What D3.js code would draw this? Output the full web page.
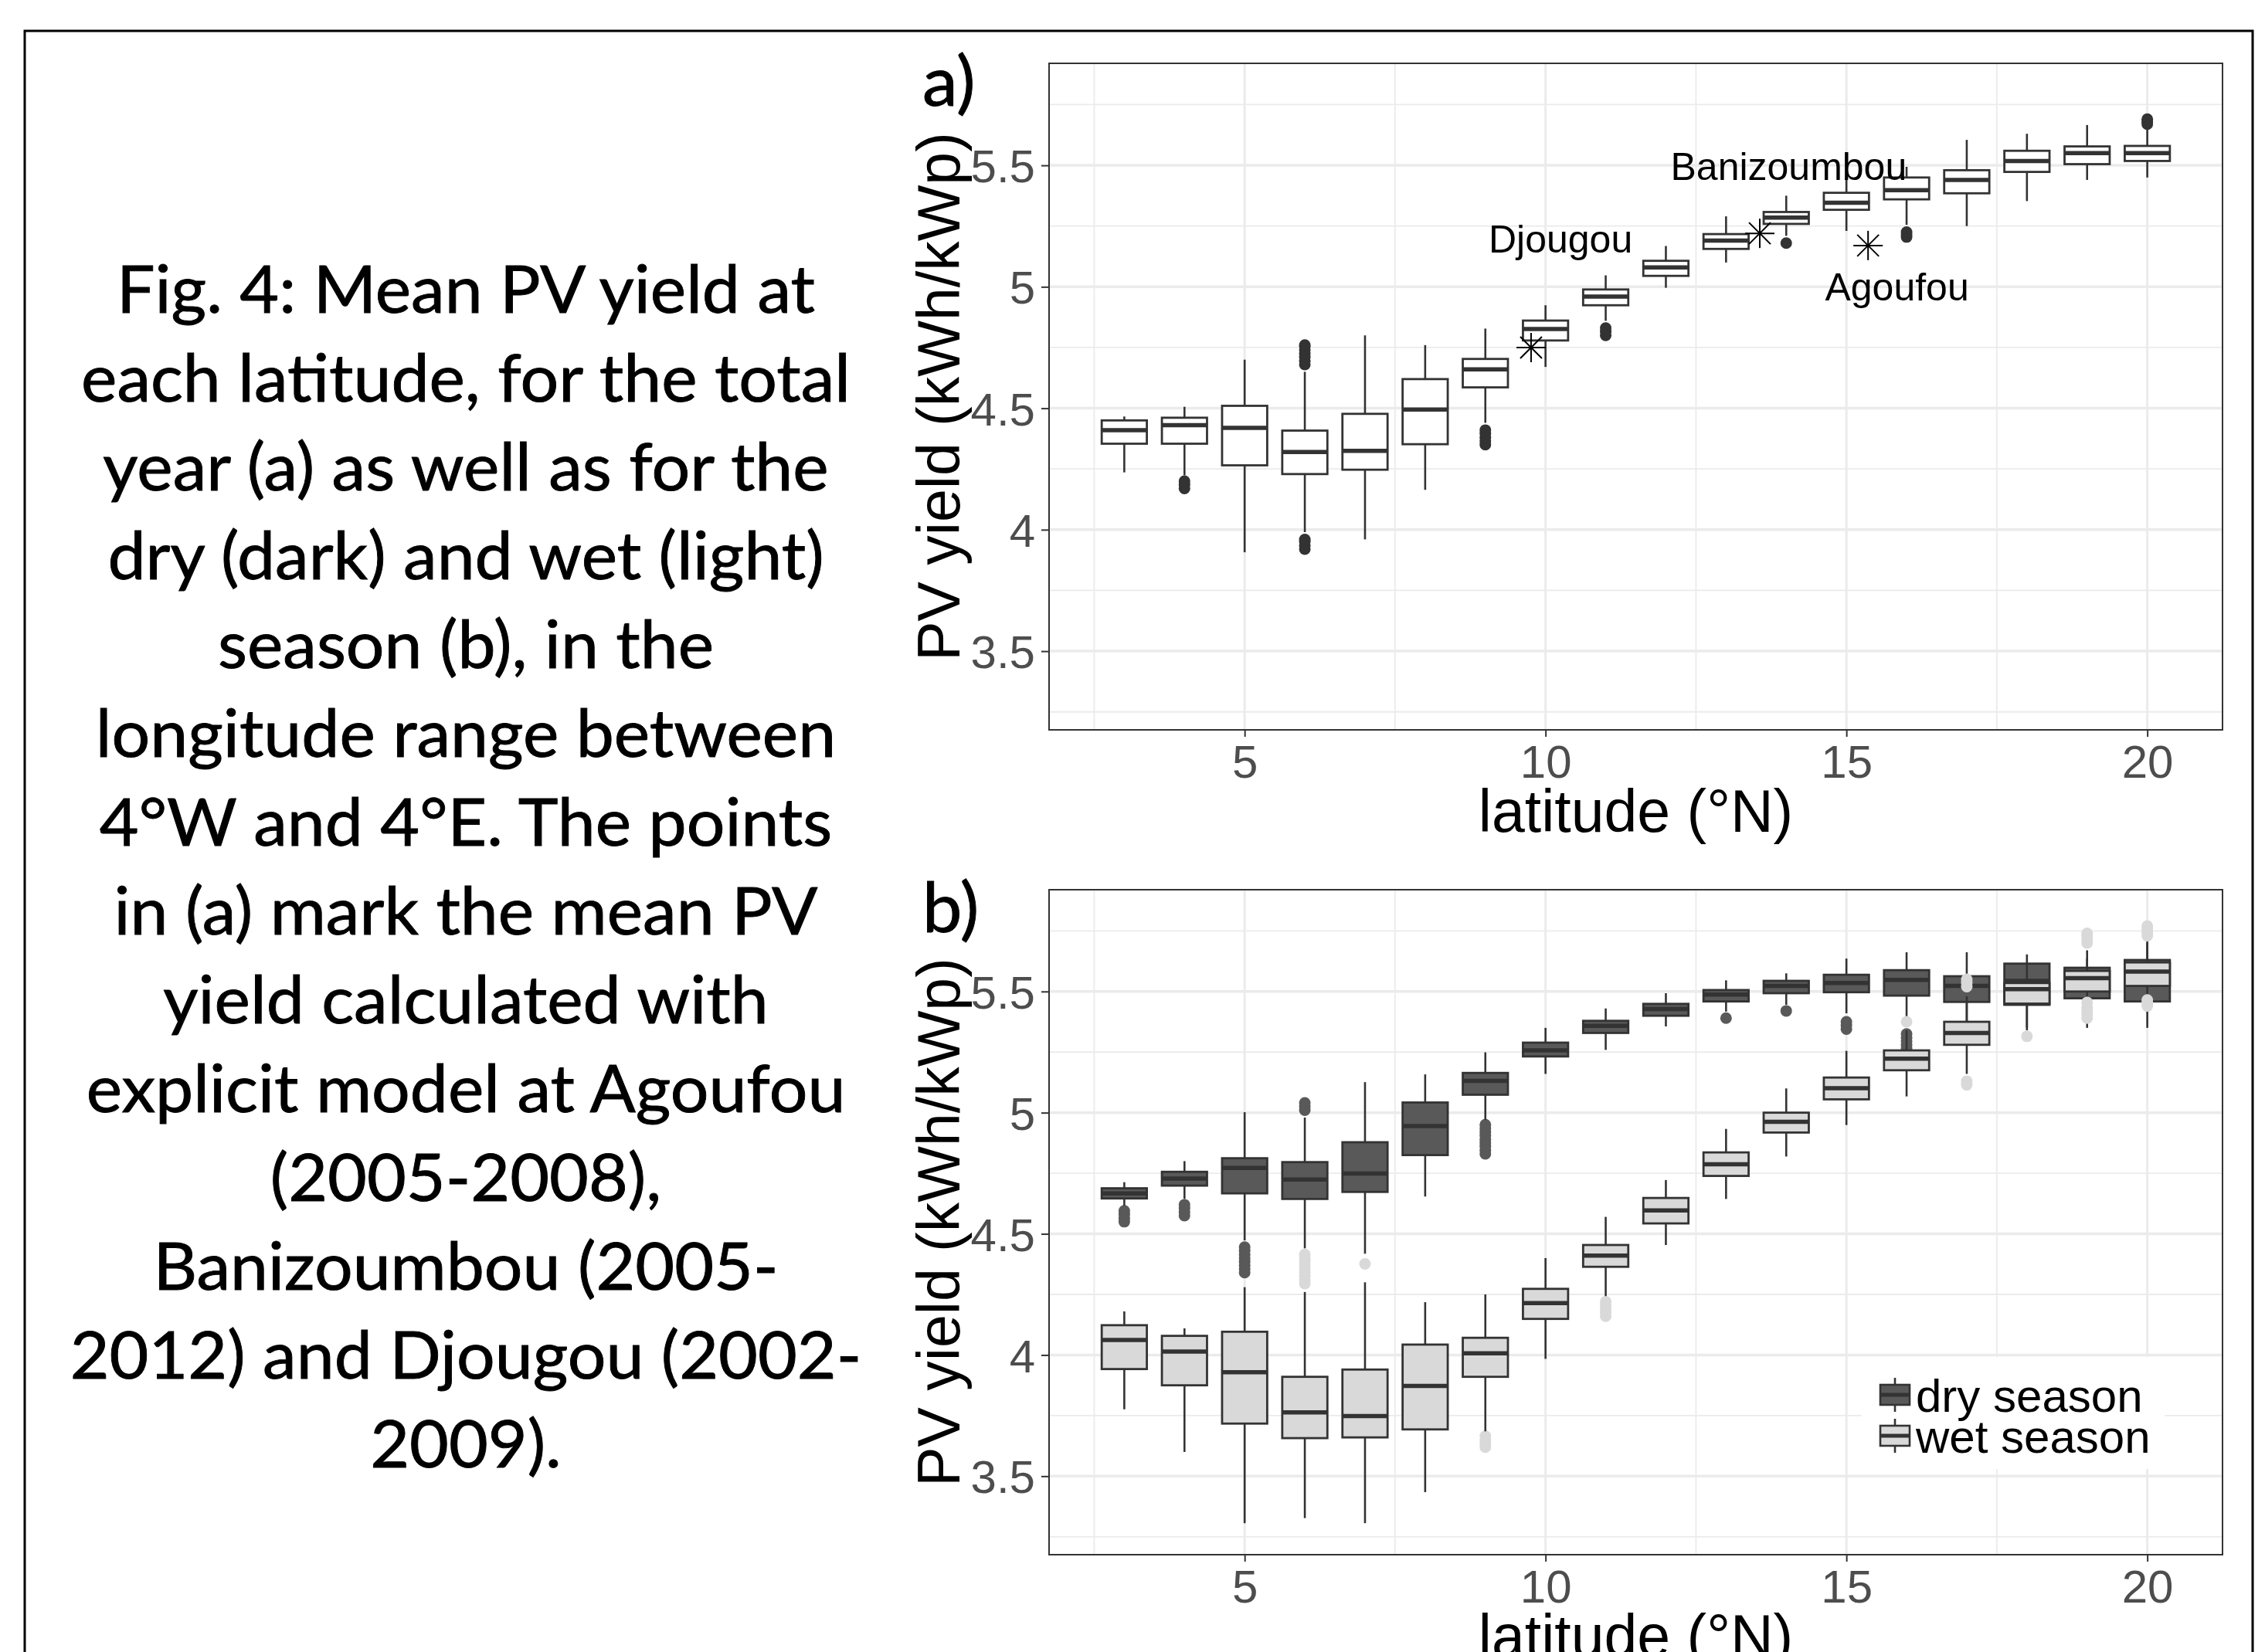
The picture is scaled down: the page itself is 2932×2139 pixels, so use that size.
<!DOCTYPE html>
<html>
<head>
<meta charset="utf-8">
<script src="https://cdn.jsdelivr.net/npm/d3@7"></script>
<style>
  body { margin: 0; background: #fff; }
  .caption text { font-family: Lato, "Open Sans", sans-serif; fill: #000; stroke: #000; stroke-width: 0.9; }
  .tick text { font-family: "Liberation Sans", Arial, sans-serif; fill: #4d4d4d; }
  .tick line { stroke: #333; }
</style>
</head>
<body>
<svg id="chart" width="2932" height="2139"></svg>
<script>
// ---- data ----
var latitudes = [3, 4, 5, 6, 7, 8, 9, 10, 11, 12, 13, 14, 15, 16, 17, 18, 19, 20];

// a) total year
var yearLow    = [4.236, 4.224, 3.907, 3.99, 3.96, 4.164, 4.44, 4.67, 4.86, 4.996, 5.10, 5.21, 5.23, 5.255, 5.25, 5.353, 5.44, 5.45];
var yearQ1     = [4.354, 4.354, 4.265, 4.229, 4.247, 4.352, 4.586, 4.779, 4.924, 5.045, 5.156, 5.259, 5.317, 5.36, 5.385, 5.473, 5.505, 5.518];
var yearMedian = [4.41, 4.43, 4.419, 4.32, 4.325, 4.495, 4.66, 4.826, 4.96, 5.08, 5.19, 5.285, 5.346, 5.398, 5.44, 5.518, 5.55, 5.55];
var yearQ3     = [4.45, 4.461, 4.51, 4.408, 4.477, 4.62, 4.703, 4.861, 4.989, 5.107, 5.217, 5.308, 5.387, 5.45, 5.48, 5.56, 5.578, 5.58];
var yearHigh   = [4.466, 4.506, 4.70, 4.65, 4.80, 4.76, 4.828, 4.924, 5.047, 5.168, 5.29, 5.375, 5.443, 5.494, 5.605, 5.63, 5.666, 5.65];
var yearOutliers = [[], [4.17, 4.185, 4.20], [],
  [4.68, 4.695, 4.71, 4.725, 4.74, 4.755, 4.76, 3.92, 3.935, 3.95, 3.96], [], [],
  [4.35, 4.365, 4.38, 4.395, 4.41], [], [4.80, 4.815, 4.83], [], [], [5.18], [], [5.205, 5.215, 5.225], [], [], [],
  [5.67, 5.68, 5.69]];

// b) dry season
var dryLow    = [4.616, 4.644, 4.473, 4.44, 4.418, 4.654, 4.97, 5.16, 5.259, 5.356, 5.417, 5.445, 5.41, 5.36, 5.36, 5.35, 5.35, 5.35];
var dryQ1     = [4.646, 4.699, 4.667, 4.644, 4.673, 4.825, 5.074, 5.232, 5.329, 5.40, 5.459, 5.493, 5.497, 5.483, 5.457, 5.445, 5.472, 5.459];
var dryMedian = [4.667, 4.728, 4.772, 4.724, 4.749, 4.945, 5.131, 5.257, 5.358, 5.428, 5.487, 5.523, 5.535, 5.548, 5.523, 5.544, 5.548, 5.558];
var dryQ3     = [4.688, 4.756, 4.812, 4.796, 4.878, 5.042, 5.164, 5.289, 5.379, 5.449, 5.506, 5.544, 5.569, 5.588, 5.563, 5.615, 5.598, 5.63];
var dryHigh   = [4.713, 4.80, 5.002, 4.98, 5.126, 5.158, 5.249, 5.35, 5.43, 5.493, 5.546, 5.575, 5.636, 5.662, 5.662, 5.653, 5.636, 5.708];
var dryOutliers = [[4.55, 4.565, 4.58, 4.595], [4.575, 4.59, 4.605, 4.62],
  [4.34, 4.355, 4.37, 4.385, 4.40, 4.415, 4.43, 4.445], [5.01, 5.025, 5.04], [], [],
  [4.83, 4.845, 4.86, 4.875, 4.89, 4.905, 4.92, 4.935, 4.95], [], [], [], [5.39], [5.42],
  [5.345, 5.36, 5.375], [5.265, 5.28, 5.295, 5.31, 5.325], [], [], [], []];

// b) wet season
var wetLow    = [3.776, 3.60, 3.306, 3.327, 3.306, 3.434, 3.685, 3.984, 4.243, 4.454, 4.644, 4.819, 4.949, 5.067, 5.16, 5.34, 5.48, 5.49];
var wetQ1     = [3.942, 3.875, 3.717, 3.657, 3.66, 3.693, 3.91, 4.149, 4.364, 4.543, 4.739, 4.918, 5.055, 5.175, 5.28, 5.45, 5.50, 5.523];
var wetMedian = [4.062, 4.014, 3.929, 3.763, 3.748, 3.872, 4.007, 4.214, 4.41, 4.597, 4.787, 4.962, 5.101, 5.223, 5.329, 5.51, 5.555, 5.582];
var wetQ3     = [4.123, 4.079, 4.096, 3.91, 3.94, 4.043, 4.071, 4.273, 4.454, 4.648, 4.836, 5.0, 5.145, 5.257, 5.375, 5.535, 5.585, 5.62];
var wetHigh   = [4.18, 4.11, 4.28, 4.26, 4.30, 4.218, 4.25, 4.40, 4.57, 4.722, 4.933, 5.10, 5.255, 5.34, 5.48, 5.62, 5.67, 5.70];
var wetOutliers = [[], [], [],
  [4.295, 4.31, 4.325, 4.34, 4.355, 4.37, 4.385, 4.40, 4.415], [4.376], [],
  [3.62, 3.635, 3.65, 3.665], [], [4.16, 4.175, 4.19, 4.205, 4.22], [],
  [], [], [], [5.375], [5.52, 5.535, 5.55, 5.115, 5.13], [5.315],
  [5.70, 5.715, 5.73, 5.74, 5.39, 5.405, 5.42, 5.435, 5.455],
  [5.73, 5.745, 5.76, 5.77, 5.44, 5.455, 5.465]];

// stations (explicit model means)
var stationNames = ["Djougou", "Banizoumbou", "Agoufou"];
var stationLat   = [9.76, 13.56, 15.36];
var stationYield = [4.75, 5.22, 5.17];
var labelLat     = [10.25, 14.04, 15.84];
var labelYield   = [5.14, 5.44, 4.945];

var yTicks = [3.5, 4, 4.5, 5, 5.5];
var yTickLabels = ["3.5", "4", "4.5", "5", "5.5"];
var yMinor = [3.25, 3.75, 4.25, 4.75, 5.25, 5.75];
var xTicks = [5, 10, 15, 20];
var xTickLabels = ["5", "10", "15", "20"];
var xMinor = [2.5, 7.5, 12.5, 17.5];

var seasonNames = ["dry season", "wet season"];

var captionLines = [
  "Fig. 4: Mean PV yield at",
  "each latitude, for the total",
  "year (a) as well as for the",
  "dry (dark) and wet (light)",
  "season (b), in the",
  "longitude range between",
  "4°W and 4°E. The points",
  "in (a) mark the mean PV",
  "yield calculated with",
  "explicit model at Agoufou",
  "(2005-2008),",
  "Banizoumbou (2005-",
  "2012) and Djougou (2002-",
  "2009)."
];

// ---- layout ----
var svg = d3.select("#chart");
var axisFont = "'Liberation Sans', Arial, sans-serif";
var boxStroke = "#333333";

svg.append("rect")
    .attr("x", 32).attr("y", 40)
    .attr("width", 2884).attr("height", 2200)
    .attr("fill", "none").attr("stroke", "#000").attr("stroke-width", 3);

// caption
var cap = svg.append("g").attr("class", "caption");
var capText = cap.selectAll("text")
  .data(captionLines)
  .enter().append("text")
    .attr("x", 0)
    .attr("y", function (d, i) { return 405 + i * 115; })
    .attr("text-anchor", "middle")
    .attr("font-size", 86)
    .text(function (d) { return d; });
var firstWidth = capText.node().getComputedTextLength();
var capScale = 904 / firstWidth;
cap.attr("transform", "translate(603,0) scale(" + capScale + ",1)");

function panel(top, bottom, letter) {
  var left = 1358, right = 2877;
  var x = d3.scaleLinear().domain([1.75, 21.25]).range([left, right]);
  var y = d3.scaleLinear().domain([3.176, 5.92]).range([bottom, top]);
  var g = svg.append("g");

  // grid
  g.selectAll(".yminor").data(yMinor).enter().append("line")
      .attr("x1", left).attr("x2", right)
      .attr("y1", function (d) { return y(d); }).attr("y2", function (d) { return y(d); })
      .attr("stroke", "#ebebeb").attr("stroke-width", 1.8);
  g.selectAll(".xminor").data(xMinor).enter().append("line")
      .attr("y1", top).attr("y2", bottom)
      .attr("x1", function (d) { return x(d); }).attr("x2", function (d) { return x(d); })
      .attr("stroke", "#ebebeb").attr("stroke-width", 1.8);
  g.selectAll(".ymajor").data(yTicks).enter().append("line")
      .attr("x1", left).attr("x2", right)
      .attr("y1", function (d) { return y(d); }).attr("y2", function (d) { return y(d); })
      .attr("stroke", "#ebebeb").attr("stroke-width", 3.5);
  g.selectAll(".xmajor").data(xTicks).enter().append("line")
      .attr("y1", top).attr("y2", bottom)
      .attr("x1", function (d) { return x(d); }).attr("x2", function (d) { return x(d); })
      .attr("stroke", "#ebebeb").attr("stroke-width", 3);

  // axes
  g.append("g")
      .attr("transform", "translate(" + left + ",0)")
      .call(d3.axisLeft(y).tickValues(yTicks)
        .tickFormat(function (d, i) { return yTickLabels[i]; })
        .tickSize(10).tickPadding(8))
      .call(function (a) { a.select(".domain").remove(); })
      .selectAll("text").attr("font-size", 60).attr("dy", "0.36em");
  g.selectAll(".tick line").attr("stroke-width", 2);

  var xa = g.append("g")
      .attr("transform", "translate(0," + bottom + ")")
      .call(d3.axisBottom(x).tickValues(xTicks)
        .tickFormat(function (d, i) { return xTickLabels[i]; })
        .tickSize(9).tickPadding(10))
      .call(function (a) { a.select(".domain").remove(); });
  xa.selectAll("text").attr("font-size", 60).attr("dy", "0.72em");
  xa.selectAll("line").attr("stroke-width", 2);

  g.append("text")
      .attr("x", (left + right) / 2).attr("y", bottom + 132)
      .attr("text-anchor", "middle")
      .attr("font-family", axisFont).attr("font-size", 77)
      .text("latitude (°N)");

  g.append("text")
      .attr("transform", "translate(1242," + (top + bottom) / 2 + ") rotate(-90)")
      .attr("text-anchor", "middle")
      .attr("font-family", axisFont).attr("font-size", 77)
      .text("PV yield (kWh/kWp)");

  g.append("text")
      .attr("transform", "translate(1194," + (top + 55) + ") scale(" + capScale + ",1)")
      .attr("font-family", "Lato, 'Open Sans', sans-serif").attr("font-size", 90)
      .attr("stroke", "#000").attr("stroke-width", 0.9)
      .text(letter);

  return { g: g, x: x, y: y, left: left, right: right, top: top, bottom: bottom };
}

function drawBoxes(p, low, q1, med, q3, high, outliers, fill, pointColor) {
  var x = p.x, y = p.y;
  var half = (x(0.375) - x(0));
  var layer = p.g.append("g");
  var groups = layer.selectAll("g.box")
    .data(latitudes)
    .enter().append("g").attr("class", "box");

  groups.each(function (lat, i) {
    var b = d3.select(this);
    b.selectAll("circle")
      .data(outliers[i])
      .enter().append("circle")
        .attr("cx", x(lat)).attr("cy", function (d) { return y(d); })
        .attr("r", 7.5).attr("fill", pointColor);
    b.append("line")
        .attr("x1", x(lat)).attr("x2", x(lat))
        .attr("y1", y(high[i])).attr("y2", y(q3[i]))
        .attr("stroke", boxStroke).attr("stroke-width", 2.6);
    b.append("line")
        .attr("x1", x(lat)).attr("x2", x(lat))
        .attr("y1", y(q1[i])).attr("y2", y(low[i]))
        .attr("stroke", boxStroke).attr("stroke-width", 2.6);
    b.append("rect")
        .attr("x", x(lat) - half).attr("width", 2 * half)
        .attr("y", y(q3[i])).attr("height", y(q1[i]) - y(q3[i]))
        .attr("fill", fill).attr("stroke", boxStroke).attr("stroke-width", 2.8);
    b.append("line")
        .attr("x1", x(lat) - half).attr("x2", x(lat) + half)
        .attr("y1", y(med[i])).attr("y2", y(med[i]))
        .attr("stroke", boxStroke).attr("stroke-width", 5.5);
  });
}

function border(p) {
  p.g.append("rect")
      .attr("x", p.left).attr("y", p.top)
      .attr("width", p.right - p.left).attr("height", p.bottom - p.top)
      .attr("fill", "none").attr("stroke", "#333").attr("stroke-width", 2);
}

// ---- panel a ----
var pa = panel(82, 945, "a)");
drawBoxes(pa, yearLow, yearQ1, yearMedian, yearQ3, yearHigh, yearOutliers, "#ffffff", "#333333");

var stars = pa.g.selectAll(".star")
  .data(stationNames)
  .enter().append("g")
    .attr("transform", function (d, i) {
      return "translate(" + pa.x(stationLat[i]) + "," + pa.y(stationYield[i]) + ")";
    });
[[-19, 0, 19, 0], [0, -19, 0, 19], [-14, -14, 14, 14], [-14, 14, 14, -14]].forEach(function (s) {
  stars.append("line")
      .attr("x1", s[0]).attr("y1", s[1]).attr("x2", s[2]).attr("y2", s[3])
      .attr("stroke", "#000").attr("stroke-width", 2);
});
pa.g.selectAll(".station-label")
  .data(stationNames)
  .enter().append("text")
    .attr("x", function (d, i) { return pa.x(labelLat[i]); })
    .attr("y", function (d, i) { return pa.y(labelYield[i]); })
    .attr("text-anchor", "middle")
    .attr("font-family", axisFont).attr("font-size", 50)
    .text(function (d) { return d; });
border(pa);

// ---- panel b ----
var pb = panel(1152, 2013, "b)");

// legend background sits above grid, below boxes
var legendG = pb.g.append("g");
legendG.append("rect")
    .attr("x", 2410).attr("y", 1757).attr("width", 392).attr("height", 145)
    .attr("fill", "#fff");

drawBoxes(pb, dryLow, dryQ1, dryMedian, dryQ3, dryHigh, dryOutliers, "#595959", "#595959");
drawBoxes(pb, wetLow, wetQ1, wetMedian, wetQ3, wetHigh, wetOutliers, "#d9d9d9", "#d9d9d9");

var seasonFills = ["#595959", "#d9d9d9"];
var keys = legendG.selectAll(".key")
  .data(seasonNames)
  .enter().append("g")
    .attr("transform", function (d, i) { return "translate(2453," + (1806 + i * 53) + ")"; });
keys.append("line").attr("x1", 0).attr("x2", 0).attr("y1", -22).attr("y2", 22)
    .attr("stroke", boxStroke).attr("stroke-width", 2.6);
keys.append("rect").attr("x", -19).attr("y", -13).attr("width", 38).attr("height", 26)
    .attr("fill", function (d, i) { return seasonFills[i]; })
    .attr("stroke", boxStroke).attr("stroke-width", 2.6);
keys.append("line").attr("x1", -19).attr("x2", 19).attr("y1", 0).attr("y2", 0)
    .attr("stroke", boxStroke).attr("stroke-width", 5);
keys.append("text")
    .attr("x", 27).attr("y", 22)
    .attr("font-family", axisFont).attr("font-size", 60)
    .text(function (d) { return d; });
border(pb);
</script>
</body>
</html>
